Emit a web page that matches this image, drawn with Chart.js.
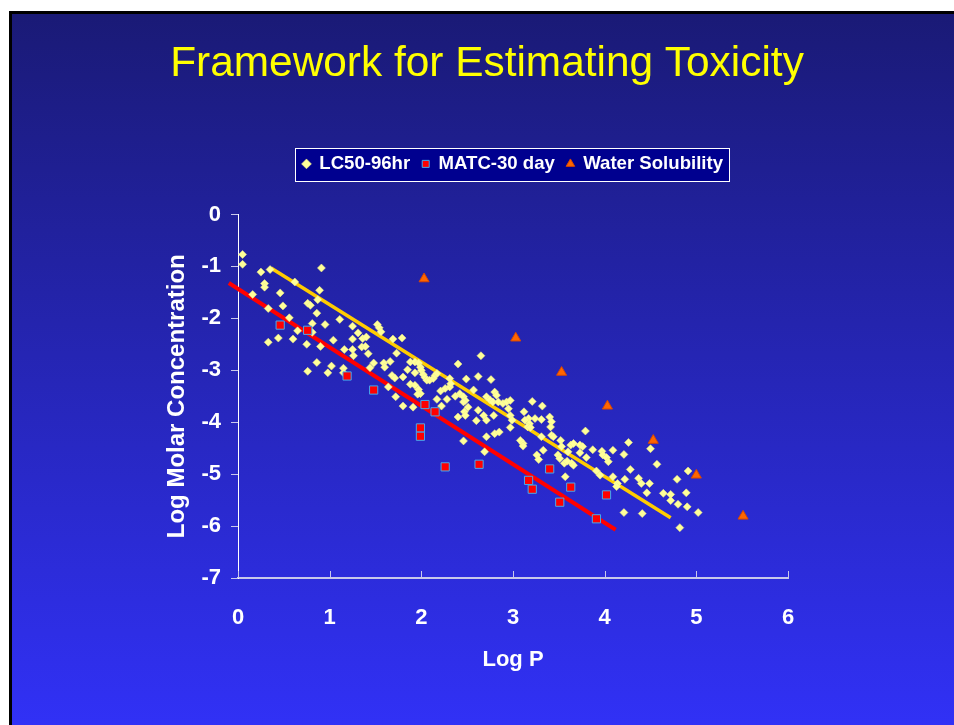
<!DOCTYPE html>
<html>
<head>
<meta charset="utf-8">
<title>Framework for Estimating Toxicity</title>
<script src="https://cdn.jsdelivr.net/npm/chart.js@4.4.1/dist/chart.umd.min.js"></script>
<style>
  html, body { margin: 0; padding: 0; background: #ffffff; }
  #slide {
    position: absolute; left: 9px; top: 11px; width: 945px; height: 714px;
    box-sizing: border-box; border-left: 3px solid #000; border-top: 3px solid #000;
    background: linear-gradient(to bottom, #1a1a76, #3131f6);
  }
  #toxChart { display: block; }
</style>
</head>
<body>
<div id="slide"><canvas id="toxChart" width="942" height="711"></canvas></div>
<script>
// data
const lc50LogP = [
  0.05, 0.05, 0.25, 0.35, 0.91, 0.29, 0.29, 0.62, 0.89, 0.46, 0.16, 0.87, 0.76, 0.79, 0.49, 0.33, 0.86, 0.56, 1.11, 0.81,
  0.95, 1.25, 1.31, 0.65, 0.81, 1.25, 0.44, 0.60, 1.04, 0.33, 0.75, 0.90, 1.36, 1.40, 1.35, 1.39, 1.16, 1.25, 1.26, 0.86,
  1.02, 0.98, 1.15, 1.15, 0.76, 1.42, 1.52, 1.54, 1.56, 1.69, 1.79, 1.73, 1.48, 1.44, 1.59, 1.60, 1.66, 1.68, 1.71, 1.85,
  1.88, 1.93, 1.97, 1.99, 2.00, 2.02, 2.04, 2.06, 1.88, 1.93, 1.97, 1.99, 1.72, 1.80, 1.91, 2.40, 2.49, 2.21, 2.26, 2.31,
  2.42, 2.46, 2.48, 2.51, 2.17, 2.28, 2.22, 2.40, 2.60, 2.62, 2.62, 1.64, 2.09, 2.13, 2.15, 2.17, 2.31, 2.32, 1.93, 1.96,
  2.46, 2.47, 2.48, 2.57, 2.65, 2.76, 2.71, 2.75, 2.80, 2.82, 2.78, 2.84, 2.89, 2.93, 2.97, 2.68, 2.71, 2.79, 2.95, 2.97,
  2.99, 2.97, 2.71, 2.80, 2.85, 2.46, 2.69, 3.21, 3.32, 3.12, 3.17, 3.18, 3.16, 3.19, 3.13, 3.24, 3.31, 3.40, 3.42, 3.41,
  3.42, 3.44, 3.08, 3.11, 3.11, 3.31, 3.52, 3.53, 3.33, 3.26, 3.28, 3.49, 3.51, 3.60, 3.57, 3.63, 3.66, 3.73, 3.76, 3.79,
  3.87, 3.64, 3.66, 3.80, 3.97, 3.98, 4.02, 4.04, 4.09, 4.21, 4.26, 4.28, 4.14, 4.13, 4.21, 4.37, 4.40, 4.46, 4.41, 4.50,
  4.57, 4.49, 4.64, 4.72, 4.72, 4.80, 4.79, 4.91, 4.89, 4.90, 5.02, 4.82, 4.09, 4.22, 3.91, 3.95, 3.56, 3.73, 3.59, 2.37,
  1.80
];
const lc50LogC = [
  -0.77, -0.96, -1.11, -1.06, -1.03, -1.33, -1.40, -1.30, -1.46, -1.51, -1.54, -1.64, -1.71, -1.75, -1.76, -1.81, -1.90, -1.99, -2.02, -2.10,
  -2.12, -2.15, -2.28, -2.24, -2.27, -2.40, -2.38, -2.40, -2.42, -2.46, -2.50, -2.54, -2.39, -2.36, -2.55, -2.54, -2.60, -2.60, -2.72, -2.85,
  -2.92, -3.05, -2.96, -3.05, -3.02, -2.68, -2.12, -2.18, -2.26, -2.40, -2.38, -2.67, -2.86, -2.95, -2.86, -2.94, -2.83, -3.10, -3.15, -2.99,
  -2.84, -2.84, -2.86, -2.94, -3.00, -3.08, -3.14, -3.19, -3.27, -3.29, -3.37, -3.45, -3.51, -3.69, -3.71, -2.88, -3.17, -3.40, -3.35, -3.32,
  -3.45, -3.51, -3.58, -3.71, -3.56, -3.56, -3.69, -3.90, -3.97, -3.77, -3.12, -3.32, -3.19, -3.16, -3.10, -3.06, -3.16, -3.26, -3.05, -3.46,
  -3.61, -3.80, -3.87, -3.38, -2.72, -3.18, -3.51, -3.57, -3.42, -3.48, -3.61, -3.61, -3.64, -3.61, -3.58, -3.87, -3.96, -3.87, -3.74, -3.87,
  -3.96, -4.10, -4.28, -4.22, -4.19, -4.36, -4.57, -3.60, -3.69, -3.80, -3.93, -4.03, -4.09, -4.10, -3.96, -3.93, -3.95, -3.90, -3.99, -4.09,
  -4.25, -4.28, -4.35, -4.41, -4.46, -4.28, -4.35, -4.47, -4.54, -4.63, -4.72, -4.63, -4.70, -4.57, -5.05, -4.44, -4.41, -4.44, -4.47, -4.17,
  -4.53, -4.79, -4.83, -4.68, -4.56, -4.63, -4.68, -4.76, -4.54, -4.62, -4.39, -4.91, -5.18, -5.24, -5.74, -5.08, -5.18, -5.36, -5.76, -4.51,
  -4.81, -5.18, -5.37, -5.39, -5.51, -5.58, -5.10, -4.94, -5.36, -5.63, -5.74, -6.03, -5.05, -5.10, -4.94, -5.02, -4.79, -4.59, -4.75, -3.50,
  -3.13
];
const matcLogP = [0.46, 0.76, 1.19, 1.48, 1.99, 1.99, 2.04, 2.15, 2.26, 2.63, 3.17, 3.21, 3.40, 3.51, 3.63, 3.91, 4.02];
const matcLogC = [-2.13, -2.23, -3.11, -3.38, -4.11, -4.27, -3.66, -3.80, -4.86, -4.81, -5.12, -5.29, -4.90, -5.54, -5.25, -5.86, -5.40];
const solLogP = [2.03, 3.03, 3.53, 4.03, 4.53, 5.00, 5.51];
const solLogC = [-1.24, -2.38, -3.04, -3.69, -4.35, -5.02, -5.81];
// fitted trend lines (end points)
const lc50FitP = [0.36, 4.72];
const lc50FitC = [-1.03, -5.84];
const matcFitP = [-0.10, 4.12];
const matcFitC = [-1.32, -6.07];

const xMin = 0, xMax = 6, yMin = -7, yMax = 0;

function toPoints(xs, ys) {
  return xs.map((x, i) => ({ x: x, y: ys[i] }));
}

Chart.defaults.font.family = "'Liberation Sans', Arial, sans-serif";
Chart.defaults.color = '#ffffff';

// dark box with white frame behind the legend row
const legendBox = {
  id: 'legendBox',
  beforeDraw(chart) {
    const boxes = chart.legend && chart.legend.legendHitBoxes;
    if (!boxes || !boxes.length) return;
    const left = Math.round(Math.min(...boxes.map(b => b.left)) - 8);
    const right = Math.round(Math.max(...boxes.map(b => b.left + b.width)) + 6);
    const top = Math.round(boxes[0].top + boxes[0].height / 2 - 16);
    const ctx = chart.ctx;
    ctx.save();
    ctx.fillStyle = '#00008f';
    ctx.fillRect(left, top, right - left, 33);
    ctx.strokeStyle = '#ffffff';
    ctx.lineWidth = 1;
    ctx.strokeRect(left + 0.5, top + 0.5, right - left, 33);
    ctx.restore();
  }
};

// extra room between legend and plot
const legendGap = {
  id: 'legendGap',
  beforeInit(chart) {
    const fit = chart.legend.fit;
    chart.legend.fit = function () {
      fit.call(this);
      this.height += 31.3;
    };
  }
};

// x axis tick marks point up into the plot
const innerTicks = {
  id: 'innerTicks',
  afterDatasetsDraw(chart) {
    const scale = chart.scales.x;
    const ctx = chart.ctx;
    ctx.save();
    ctx.strokeStyle = '#c8c8ea';
    ctx.lineWidth = 1;
    scale.ticks.forEach(t => {
      const px = Math.round(scale.getPixelForValue(t.value)) + 0.5;
      ctx.beginPath();
      ctx.moveTo(px, scale.top);
      ctx.lineTo(px, scale.top - 7);
      ctx.stroke();
    });
    ctx.restore();
  }
};

const ctx = document.getElementById('toxChart').getContext('2d');
const toxChart = new Chart(ctx, {
  type: 'scatter',
  data: {
    datasets: [
      {
        label: 'LC50-96hr',
        data: toPoints(lc50LogP, lc50LogC),
        pointStyle: 'rectRot',
        radius: 4,
        backgroundColor: '#ffff99',
        borderColor: '#eeee88',
        borderWidth: 0.5,
        order: 3
      },
      {
        label: 'MATC-30 day',
        data: toPoints(matcLogP, matcLogC),
        pointStyle: 'rect',
        radius: 5.8,
        backgroundColor: '#ff0000',
        borderColor: '#44aaee',
        borderWidth: 1,
        order: 1
      },
      {
        label: 'Water Solubility',
        data: toPoints(solLogP, solLogC),
        pointStyle: 'triangle',
        radius: 5.8,
        backgroundColor: '#ff6600',
        borderColor: '#d94800',
        borderWidth: 1,
        order: 1
      },
      {
        label: 'LC50 fit',
        data: toPoints(lc50FitP, lc50FitC),
        showLine: true,
        borderColor: '#ffcc00',
        borderWidth: 3.5,
        pointRadius: 0,
        order: 4
      },
      {
        label: 'MATC fit',
        data: toPoints(matcFitP, matcFitC),
        showLine: true,
        borderColor: '#ff0000',
        borderWidth: 4,
        pointRadius: 0,
        clip: false,
        order: 4
      }
    ]
  },
  options: {
    responsive: false,
    animation: false,
    events: [],
    layout: {
      padding: { left: 150, right: 142, top: 0, bottom: 52 }
    },
    plugins: {
      title: {
        display: true,
        text: 'Framework for Estimating Toxicity',
        color: '#ffff00',
        font: { size: 42.4, weight: 'normal' },
        padding: { top: 25, bottom: 52.7 }
      },
      legend: {
        display: true,
        position: 'top',
        fullSize: false,
        labels: {
          usePointStyle: true,
          boxWidth: 7,
          boxHeight: 7,
          padding: 12,
          color: '#ffffff',
          font: { size: 18.6, weight: 'bold' },
          filter: item => item.datasetIndex < 3,
          sort: (a, b) => a.datasetIndex - b.datasetIndex
        }
      },
      tooltip: { enabled: false }
    },
    scales: {
      x: {
        type: 'linear',
        min: xMin,
        max: xMax,
        afterFit(scale) { scale.height = 95; },
        ticks: { stepSize: 1, padding: 27, color: '#ffffff', font: { size: 22, weight: 'bold' } },
        grid: { drawOnChartArea: false, drawTicks: false },
        border: { color: '#c8c8ea', width: 2 },
        title: {
          display: true,
          text: 'Log P',
          color: '#ffffff',
          font: { size: 22, weight: 'bold' },
          padding: 0
        }
      },
      y: {
        type: 'linear',
        min: yMin,
        max: yMax,
        afterFit(scale) { scale.width = 76; },
        ticks: { stepSize: 1, padding: 10, color: '#ffffff', font: { size: 22, weight: 'bold' } },
        grid: { drawOnChartArea: false, drawTicks: true, tickLength: 7, color: '#c8c8ea' },
        border: { color: '#ffffff', width: 1 },
        title: {
          display: true,
          text: 'Log Molar Concentration',
          color: '#ffffff',
          font: { size: 24, weight: 'bold' },
          padding: { top: 1, bottom: 0 }
        }
      },
      // empty spacer on the right so the title sits where it does on the slide
      spacer: {
        type: 'linear',
        position: 'right',
        afterFit(scale) { scale.width = 24; },
        ticks: { display: false },
        grid: { display: false },
        border: { display: false }
      }
    }
  },
  plugins: [legendBox, legendGap, innerTicks]
});
</script>
</body>
</html>
